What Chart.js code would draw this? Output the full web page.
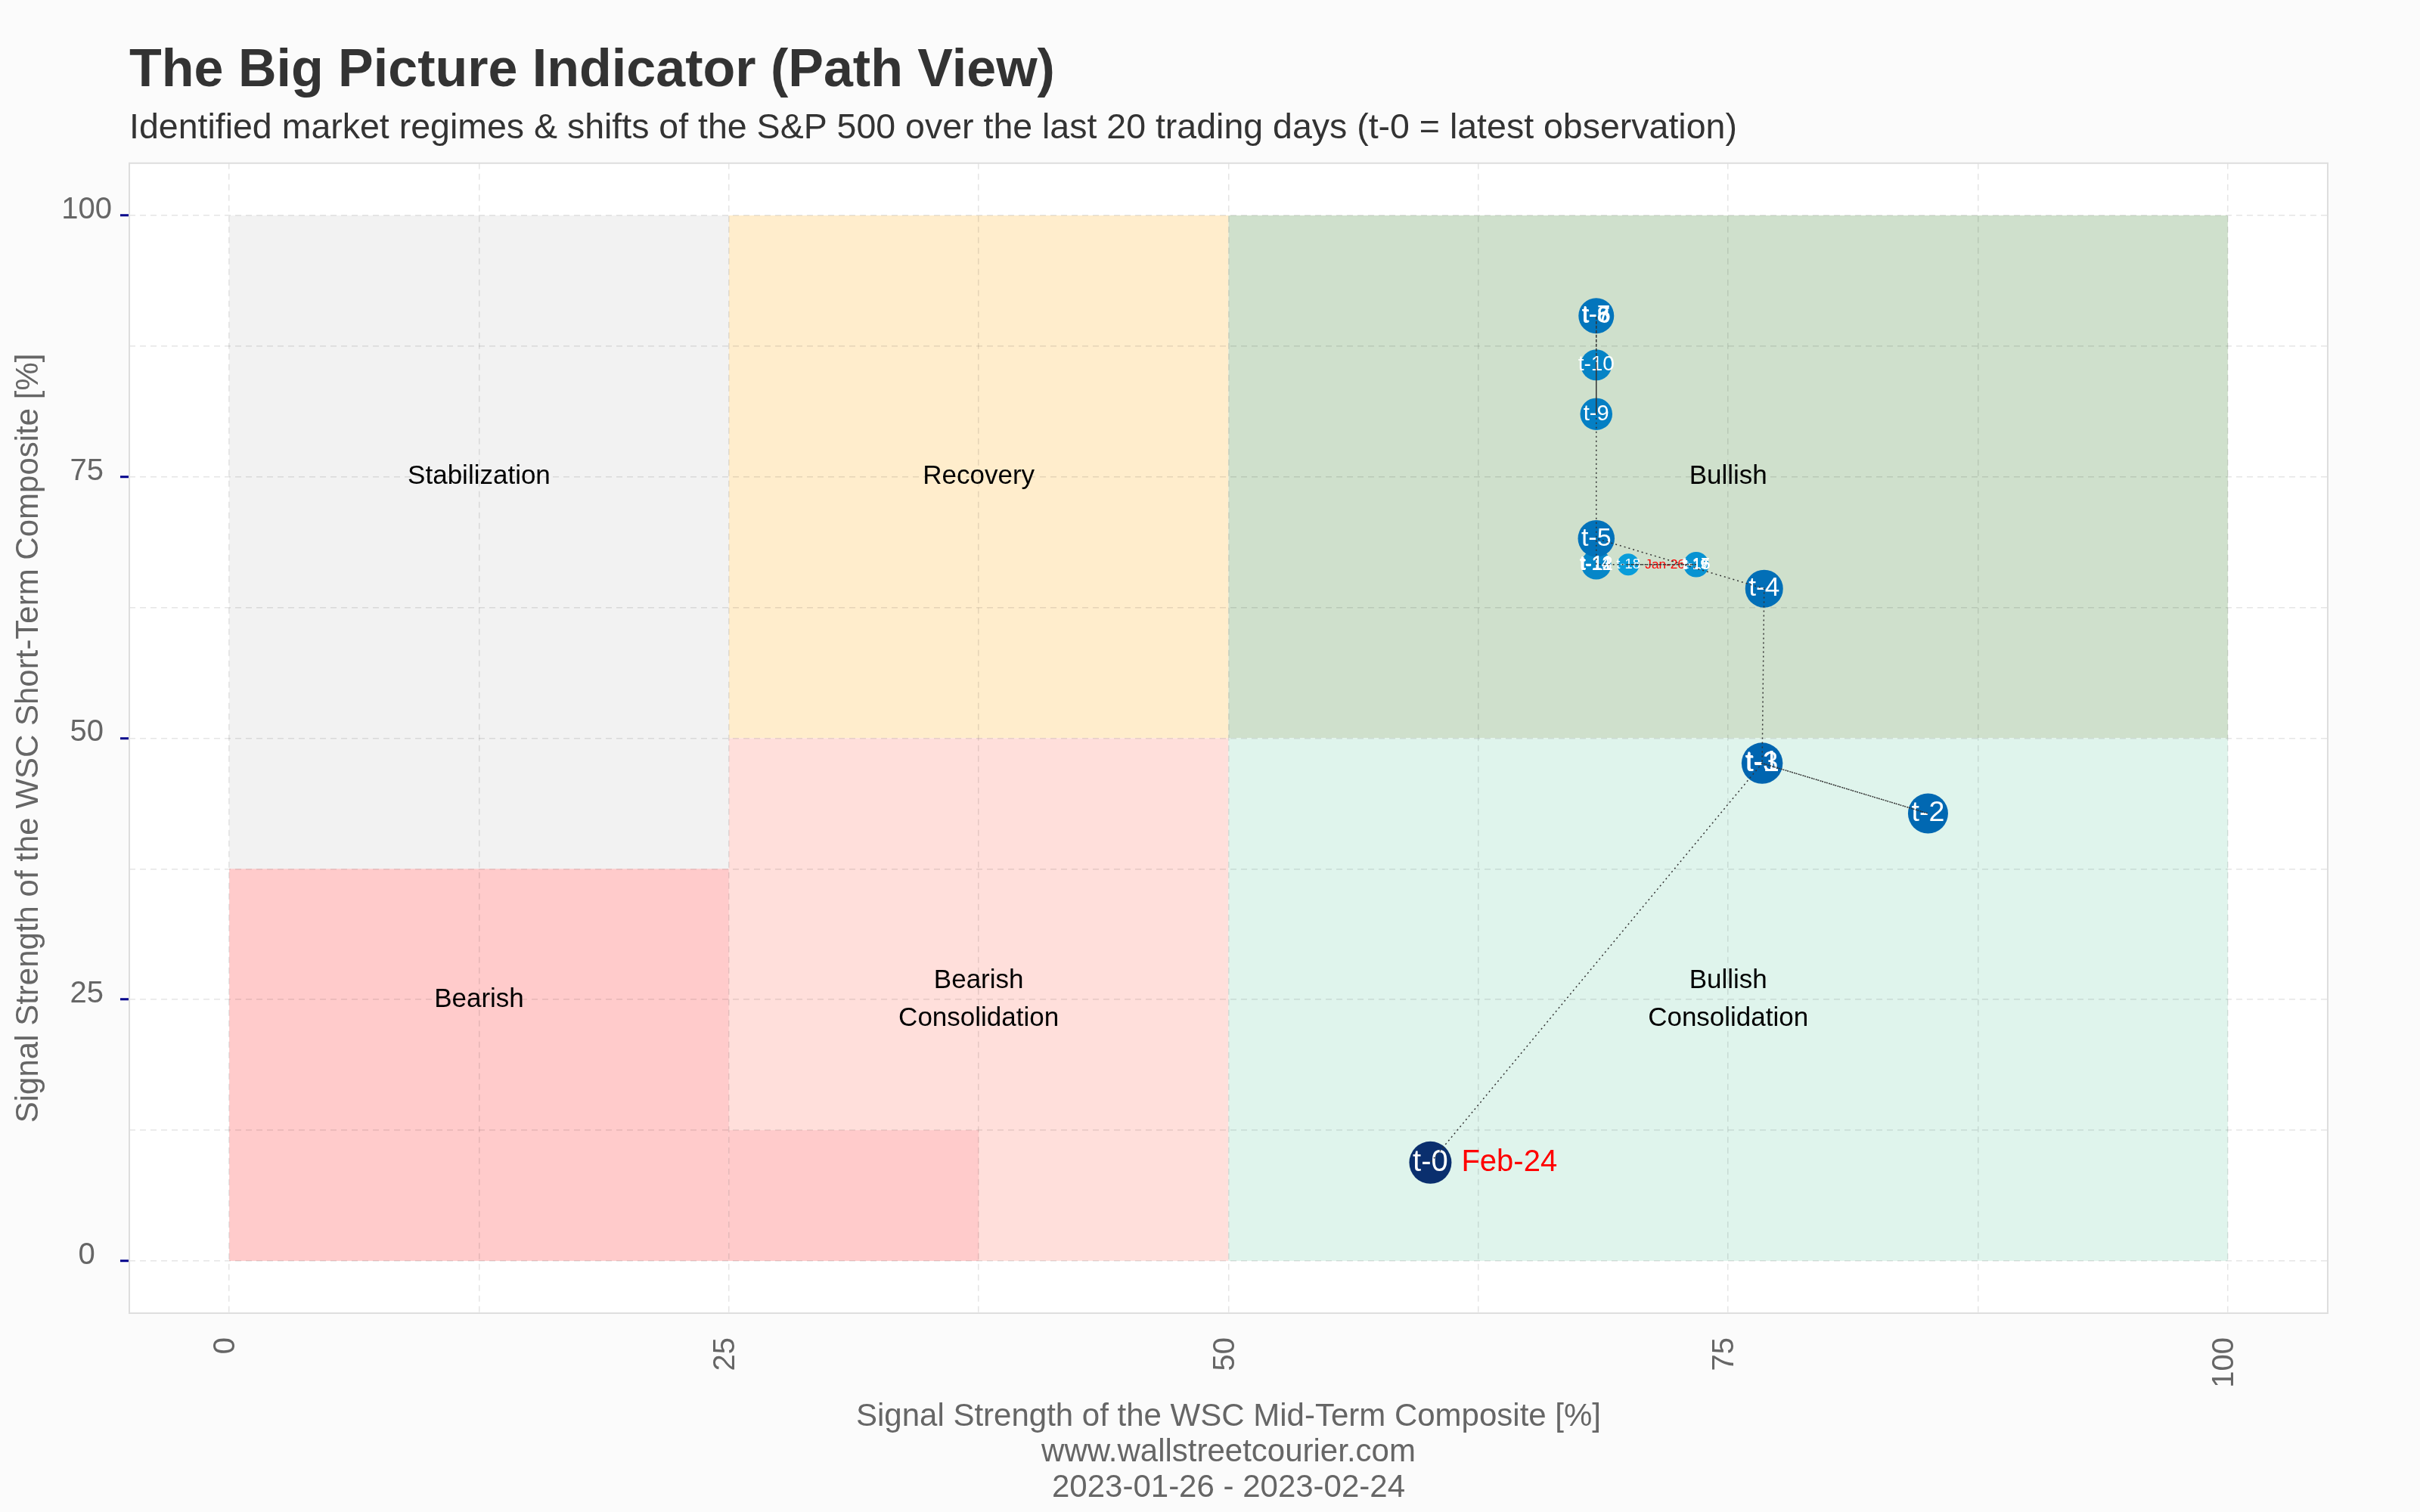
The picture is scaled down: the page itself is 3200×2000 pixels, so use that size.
<!DOCTYPE html>
<html lang="en">
<head>
<meta charset="UTF-8">
<title>The Big Picture Indicator (Path View)</title>
<script src="https://cdn.jsdelivr.net/npm/chart.js"></script>
<style>
    body {
        margin: 0;
        background: #fbfbfb;
    }
    #wrap {
        width: 3200px;
        height: 2000px;
    }
</style>
</head>
<body>
<div id="wrap"><canvas id="myChart" width="3200" height="2000"></canvas></div>

<script>
// observations, oldest first (t-19 ... t-0)
const obsLabels = ['t-19', 't-18', 't-17', 't-16', 't-15', 't-14', 't-13', 't-12', 't-11', 't-10',
                   't-9', 't-8', 't-7', 't-6', 't-5', 't-4', 't-3', 't-2', 't-1', 't-0'];
const midTerm   = [73.4, 70.0, 73.4, 73.4, 73.4, 68.4, 68.4, 68.4, 68.4, 68.4,
                   68.4, 68.4, 68.4, 68.4, 68.4, 76.8, 76.7, 85.0, 76.7, 60.1];
const shortTerm = [66.6, 66.6, 66.6, 66.6, 66.6, 66.6, 66.6, 66.6, 66.6, 85.7,
                   81.0, 90.4, 90.4, 90.4, 69.1, 64.3, 47.6, 42.8, 47.6, 9.4];
const startDate = 'Jan-26';
const endDate = 'Feb-24';
const period = '2023-01-26 - 2023-02-24';

// regime rectangles (data units)
const rectRegime = ['Stabilization', 'Recovery', 'Bullish', 'Bearish Consolidation',
                    'Bullish Consolidation', 'Bearish', 'Bearish'];
const rectX0 = [0, 25, 50, 25, 50, 0, 25];
const rectX1 = [25, 50, 100, 50, 100, 25, 37.5];
const rectY0 = [0, 50, 50, 0, 0, 0, 0];
const rectY1 = [100, 100, 100, 50, 50, 37.5, 12.5];

// regime captions
const regimeText = ['Stabilization', 'Recovery', 'Bullish', 'Bearish',
                    'Bearish\nConsolidation', 'Bullish\nConsolidation'];
const regimeTextX = [12.5, 37.5, 75, 12.5, 37.5, 75];
const regimeTextY = [75, 75, 75, 25, 25, 25];

// grid every 12.5, labels every 25
const gridValues = [0, 12.5, 25, 37.5, 50, 62.5, 75, 87.5, 100];

const FONT = '"Liberation Sans", Arial, sans-serif';
Chart.defaults.font.family = FONT;

const regimeColors = {
    'Stabilization': '#f2f2f2',
    'Recovery': '#ffedcc',
    'Bullish': '#cfe0cc',
    'Bearish': '#ffcbcb',
    'Bearish Consolidation': '#ffdfdb',
    'Bullish Consolidation': '#dff4ec'
};

const n = obsLabels.length;
const ageOf = i => n - 1 - i;
const radiusFor = age => 28 - 0.75 * age;
const textSizeFor = age => 40 - 1.2 * age;
function colorFor(age) {
    if (age === 0) return '#0a2f6e';
    const t = (age - 1) / 18;
    const r = Math.round(0 + 10 * t), g = Math.round(101 + 59 * t), b = Math.round(176 + 44 * t);
    return `rgb(${r},${g},${b})`;
}

const backdrop = {
    id: 'backdrop',
    beforeDraw(chart) {
        const {ctx, chartArea: a, scales: {x, y}} = chart;
        ctx.save();
        ctx.fillStyle = '#fbfbfb';
        ctx.fillRect(0, 0, chart.width, chart.height);
        ctx.fillStyle = '#ffffff';
        ctx.fillRect(a.left, a.top, a.width, a.height);
        rectRegime.forEach((r, i) => {
            const x0 = x.getPixelForValue(rectX0[i]);
            const x1 = x.getPixelForValue(rectX1[i]);
            const y0 = y.getPixelForValue(rectY0[i]);
            const y1 = y.getPixelForValue(rectY1[i]);
            ctx.fillStyle = regimeColors[r];
            ctx.fillRect(x0, y1, x1 - x0, y0 - y1);
        });
        ctx.restore();
    },
    beforeDatasetsDraw(chart) {
        const {ctx, chartArea: a, scales: {x, y}} = chart;
        ctx.save();
        ctx.strokeStyle = '#dedede';
        ctx.lineWidth = 2;
        ctx.strokeRect(a.left, a.top, a.width, a.height);
        ctx.font = `35px ${FONT}`;
        ctx.fillStyle = '#000';
        ctx.textAlign = 'center';
        ctx.textBaseline = 'middle';
        regimeText.forEach((txt, i) => {
            const lines = txt.split('\n');
            const cx = x.getPixelForValue(regimeTextX[i]);
            const cy = y.getPixelForValue(regimeTextY[i]);
            lines.forEach((ln, k) => {
                ctx.fillText(ln, cx, cy + (k - (lines.length - 1) / 2) * 50);
            });
        });
        ctx.restore();
    }
};

const pointText = {
    id: 'pointText',
    afterDatasetDraw(chart, args) {
        if (args.index !== 1) return;
        const ctx = chart.ctx;
        ctx.save();
        ctx.textBaseline = 'middle';
        args.meta.data.forEach((pt, i) => {
            const age = ageOf(i);
            ctx.font = `${textSizeFor(age)}px ${FONT}`;
            ctx.fillStyle = '#ffffff';
            ctx.textAlign = 'center';
            ctx.fillText(obsLabels[i], pt.x, pt.y);
            if (i === 0) {
                ctx.fillStyle = '#ff0000';
                ctx.textAlign = 'right';
                ctx.fillText(startDate, pt.x - 15, pt.y);
            }
            if (i === n - 1) {
                ctx.fillStyle = '#ff0000';
                ctx.textAlign = 'left';
                ctx.fillText(endDate, pt.x + 41, pt.y);
            }
        });
        ctx.restore();
    }
};

const path = midTerm.map((v, i) => ({x: v, y: shortTerm[i]}));
const gridColor = 'rgba(0,0,0,0.1)';
const setGridTicks = s => { s.ticks = gridValues.map(v => ({value: v})); };
const tickLabel = v => (v % 25 === 0 ? v : '');

new Chart(document.getElementById('myChart'), {
    type: 'scatter',
    data: {
        datasets: [
            {
                data: path,
                showLine: true,
                borderColor: '#333333',
                borderWidth: 1.5,
                borderDash: [2, 4],
                pointRadius: 0,
                order: 0
            },
            {
                data: path,
                pointRadius: c => radiusFor(ageOf(c.dataIndex)),
                backgroundColor: c => colorFor(ageOf(c.dataIndex)),
                borderWidth: 0,
                order: 1
            }
        ]
    },
    options: {
        responsive: false,
        animation: false,
        events: [],
        layout: {padding: {left: 13, right: 122, top: 0, bottom: 0}},
        plugins: {
            legend: {display: false},
            tooltip: {enabled: false},
            title: {
                display: true,
                text: 'The Big Picture Indicator (Path View)',
                align: 'start',
                fullSize: false,
                color: '#333333',
                font: {size: 70, weight: 'bold', lineHeight: 1.2},
                padding: {top: 53, bottom: 0}
            },
            subtitle: {
                display: true,
                text: 'Identified market regimes & shifts of the S&P 500 over the last 20 trading days (t-0 = latest observation)',
                align: 'start',
                fullSize: false,
                color: '#333333',
                font: {size: 46.5, lineHeight: 1.2},
                padding: {top: 5, bottom: 18}
            }
        },
        scales: {
            x: {
                type: 'linear',
                min: -5,
                max: 105,
                afterBuildTicks: setGridTicks,
                afterFit: s => { s.height = 263; },
                ticks: {
                    callback: tickLabel,
                    color: '#666666',
                    font: {size: 40},
                    minRotation: 90,
                    maxRotation: 90,
                    autoSkip: false,
                    padding: 32,
                    labelOffset: -4
                },
                grid: {color: gridColor, lineWidth: 1.5, drawTicks: false},
                border: {display: false, dash: [8, 6]},
                title: {
                    display: true,
                    text: ['Signal Strength of the WSC Mid-Term Composite [%]', 'www.wallstreetcourier.com', period],
                    color: '#666666',
                    font: {size: 42, lineHeight: 1.12},
                    padding: {top: 0, bottom: 8}
                }
            },
            y: {
                type: 'linear',
                min: -5,
                max: 105,
                afterBuildTicks: setGridTicks,
                afterFit: s => { s.width = 158; },
                ticks: {
                    callback: tickLabel,
                    color: '#666666',
                    font: {size: 40},
                    padding: 11,
                    crossAlign: 'center',
                    labelOffset: -7
                },
                grid: {
                    color: gridColor,
                    lineWidth: 1.5,
                    tickLength: 12,
                    tickWidth: 3,
                    tickColor: c => (c.tick && c.tick.value % 25 === 0 ? '#00008b' : 'rgba(0,0,0,0)')
                },
                border: {display: false, dash: [8, 6]},
                title: {
                    display: true,
                    text: 'Signal Strength of the WSC Short-Term Composite [%]',
                    color: '#666666',
                    font: {size: 42, lineHeight: 1.2},
                    padding: {top: 0, bottom: 20}
                }
            }
        }
    },
    plugins: [backdrop, pointText]
});
</script>
</body>
</html>
